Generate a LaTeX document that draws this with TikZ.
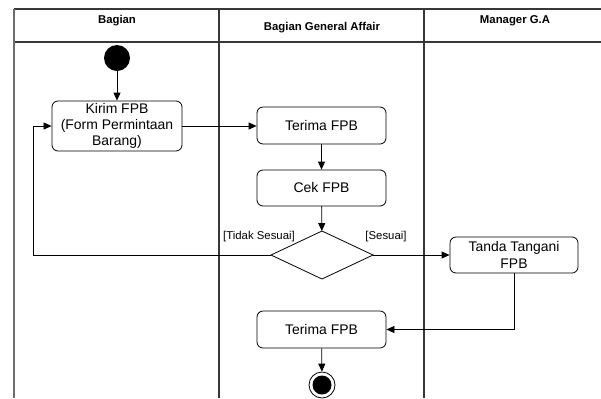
\documentclass[tikz,border=0pt]{standalone}
\usepackage{fontspec}
\setmainfont{Liberation Sans}
\usetikzlibrary{arrows.meta,shapes.geometric}
\definecolor{laneline}{RGB}{55,55,55}
\definecolor{borderline}{RGB}{110,110,110}
\tikzset{
  lane/.style={draw=laneline, line width=1.3bp},
  border/.style={draw=borderline, line width=1.3bp},
  head/.style={font=\fontsize{11.4}{13}\selectfont\bfseries, inner sep=0pt},
  act/.style={draw, rounded corners=6bp, line width=0.8bp, align=center,
    inner sep=0pt, font=\fontsize{14}{16.4}\selectfont},
  decision/.style={draw, diamond, line width=0.8bp, inner sep=0pt, outer sep=0pt,
    minimum width=102bp, minimum height=48bp},
  guard/.style={font=\fontsize{11.4}{13}\selectfont, inner sep=0pt},
  flow/.style={draw, line width=0.8bp, -{Triangle[length=8bp,width=7bp]}},
  initial/.style={circle, fill=black, minimum size=26bp, inner sep=0pt},
}
\begin{document}
\begin{tikzpicture}[x=1bp, y=-1bp]
  \useasboundingbox (0,0) rectangle (601,398);

  % swimlane frame
  \draw[lane] (14,9) -- (601,9);
  \draw[lane] (14,42) -- (601,42);
  \draw[border] (14,9) -- (14,398);
  \draw[lane] (219,9) -- (219,398);
  \draw[lane] (424,9) -- (424,398);

  % lane headings
  \node[head] (h1) at (117,21) {Bagian};
  \node[head] (h2) at (322,28) {Bagian General Affair};
  \node[head] (h3) at (515,21) {Manager G.A};

  % activities
  \node[initial] (start) at (117,58) {};
  \node[act, minimum width=130bp, minimum height=50bp] (kirim) at (117,126)
    {Kirim FPB\\(Form Permintaan\\Barang)};
  \node[act, minimum width=129bp, minimum height=37bp] (terima1) at (321.5,125.5) {Terima FPB};
  \node[act, minimum width=129bp, minimum height=36bp] (cek) at (321.5,188) {Cek FPB};
  \node[decision] (dec) at (322,255) {};
  \node[act, minimum width=128bp, minimum height=36bp] (tanda) at (514,255)
    {Tanda Tangani\\FPB};
  \node[act, minimum width=129bp, minimum height=37bp] (terima2) at (321.5,329.5) {Terima FPB};
  \node[circle, draw, line width=0.8bp, minimum size=26bp, inner sep=0pt] (final) at (322,385) {};
  \node[circle, fill=black, minimum size=19bp, inner sep=0pt] (finaldot) at (final) {};

  % guards
  \node[guard] (gno) at (259,237) {[Tidak Sesuai]};
  \node[guard] (gyes) at (386,237) {[Sesuai]};

  % control flow
  \coordinate (loopx) at (33,0);
  \draw[flow] (start) -- (kirim);
  \draw[flow] (kirim.east) -- (kirim.east -| terima1.west);
  \draw[flow] (terima1) -- (cek);
  \draw[flow] (cek) -- (dec);
  \draw[flow] (dec.west) -- (dec.west -| loopx) |- (kirim.west);
  \draw[flow] (dec.east) -- (tanda.west);
  \draw[flow] (tanda.south) |- (terima2.east);
  \draw[flow] (terima2) -- (final);
\end{tikzpicture}
\end{document}
